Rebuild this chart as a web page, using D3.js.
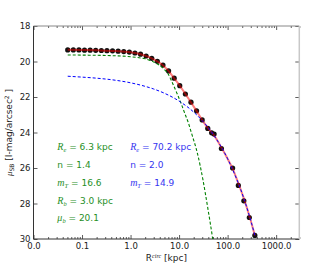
<!DOCTYPE html>
<html>
<head>
<meta charset="utf-8">
<script src="https://cdn.jsdelivr.net/npm/d3@7"></script>
<style>
  body { margin: 0; background: #fff; }
  text { font-family: 'DejaVu Sans', sans-serif; }
</style>
</head>
<body>
<svg id="chart" width="332" height="266"></svg>
<script>
// Observed profile (R in kpc, surface brightness in mag/arcsec^2)
const dataR = [0.0507, 0.0661, 0.0863, 0.1125, 0.1469, 0.1915, 0.250, 0.326, 0.425, 0.555, 0.724, 0.944,
  1.231, 1.606, 2.095, 2.733, 3.565, 4.65, 6.07, 7.92, 10.33, 13.48, 17.58, 22.93, 29.92, 39.0,
  46.8, 52.7, 74.5, 126.8, 166.2, 216, 280, 364]
const dataMu = [19.35, 19.35, 19.35, 19.36, 19.36, 19.37, 19.38, 19.39, 19.40, 19.42, 19.44, 19.47,
  19.52, 19.59, 19.69, 19.82, 19.99, 20.20, 20.53, 20.94, 21.36, 21.83, 22.29, 22.78, 23.29, 23.77,
  24.02, 24.09, 24.90, 26.00, 26.98, 27.85, 28.79, 29.80]

// Total model (red)
const redR = [0.0507, 0.1, 0.2, 0.5, 1, 2, 3, 4, 5, 6, 8, 10, 13, 17, 22, 30, 40, 50, 75, 100, 130, 170, 220, 280, 364]
const redMu = [19.34, 19.35, 19.37, 19.41, 19.48, 19.67, 19.88, 20.08, 20.29, 20.51, 20.96, 21.30, 21.76,
  22.24, 22.71, 23.30, 23.78, 24.08, 24.86, 25.48, 26.10, 26.93, 27.78, 28.69, 29.80]

// Inner component (green dashed)
const greenR = [0.0507, 0.1, 0.2, 0.5, 1, 1.5, 2, 3, 4, 5, 6, 7, 9, 11, 13, 15.5, 18, 24, 31, 39, 49, 55]
const greenMu = [19.63, 19.64, 19.65, 19.68, 19.73, 19.79, 19.85, 20.03, 20.22, 20.45, 20.72, 21.10, 21.78,
  22.36, 22.90, 23.45, 24.03, 25.20, 26.66, 28.25, 29.95, 30.9]

// Outer component (blue dashed)
const blueR = [0.0507, 0.1, 0.2, 0.5, 1, 2, 3, 5, 10, 20, 30, 50, 100, 200, 300, 364]
const blueMu = [20.83, 20.88, 20.94, 21.06, 21.20, 21.40, 21.55, 21.79, 22.23, 22.85, 23.33, 24.09,
  25.48, 27.45, 28.96, 29.80]

// Ticks
const xMajor = [0.01, 0.1, 1, 10, 100, 1000]
const yTicks = [18, 20, 22, 24, 26, 28, 30]

// Fit parameters
const greenLabels = [
  { sym: 'R', sub: 'e', txt: ' = 6.3 kpc', mu: 25 },
  { sym: '', sub: '', txt: 'n = 1.4', mu: 26 },
  { sym: 'm', sub: 'T', txt: ' = 16.6', mu: 27 },
  { sym: 'R', sub: 'b', txt: ' = 3.0 kpc', mu: 28 },
  { sym: 'μ', sub: 'b', txt: ' = 20.1', mu: 29 }
]
const blueLabels = [
  { sym: 'R', sub: 'e', txt: ' = 70.2 kpc', mu: 25 },
  { sym: '', sub: '', txt: 'n = 2.0', mu: 26 },
  { sym: 'm', sub: 'T', txt: ' = 14.9', mu: 27 }
]

const pLeft = 33.5, pRight = 299.3, pTop = 26, pBottom = 239
const svg = d3.select('#chart')

const x = d3.scaleLog().domain([0.01, 3000]).range([pLeft, pRight])
const y = d3.scaleLinear().domain([18, 30]).range([pTop, pBottom])

const isDecade = d => Math.abs(Math.log10(d) - Math.round(Math.log10(d))) < 1e-6
const xMinor = x.ticks().filter(d => !isDecade(d))

svg.append('defs').append('clipPath').attr('id', 'clip')
  .append('rect').attr('x', pLeft).attr('y', pTop).attr('width', pRight - pLeft).attr('height', pBottom - pTop)

// Axes (ticks point inward on all sides)
const styleAxis = g => {
  g.select('.domain').remove()
  g.selectAll('line').attr('stroke', '#333').attr('stroke-width', 0.8)
  g.selectAll('text').attr('fill', '#222').style('font-size', '8.5px')
}

svg.append('g').attr('transform', `translate(0,${pBottom})`)
  .call(d3.axisBottom(x).tickValues(xMajor).tickFormat(d3.format('.1f')).tickSize(-4).tickPadding(4))
  .call(styleAxis)
svg.append('g').attr('transform', `translate(0,${pBottom})`)
  .call(d3.axisBottom(x).tickValues(xMinor).tickFormat('').tickSize(-2))
  .call(styleAxis)
svg.append('g').attr('transform', `translate(0,${pTop})`)
  .call(d3.axisTop(x).tickValues(xMajor).tickFormat('').tickSize(-4))
  .call(styleAxis)
svg.append('g').attr('transform', `translate(0,${pTop})`)
  .call(d3.axisTop(x).tickValues(xMinor).tickFormat('').tickSize(-2))
  .call(styleAxis)
svg.append('g').attr('transform', `translate(${pLeft},0)`)
  .call(d3.axisLeft(y).tickValues(yTicks).tickFormat(d3.format('d')).tickSize(-4).tickPadding(3))
  .call(styleAxis)
svg.append('g').attr('transform', `translate(${pRight},0)`)
  .call(d3.axisRight(y).tickValues(yTicks).tickFormat('').tickSize(-4))
  .call(styleAxis)

// Spines
svg.append('line').attr('x1', pLeft).attr('x2', pLeft).attr('y1', pTop).attr('y2', pBottom).attr('stroke', '#333').attr('stroke-width', 1)
svg.append('line').attr('x1', pLeft).attr('x2', pRight).attr('y1', pBottom).attr('y2', pBottom).attr('stroke', '#333').attr('stroke-width', 1)
svg.append('line').attr('x1', pLeft).attr('x2', pRight).attr('y1', pTop).attr('y2', pTop).attr('stroke', '#888').attr('stroke-width', 1)
svg.append('line').attr('x1', pRight).attr('x2', pRight).attr('y1', pTop).attr('y2', pBottom).attr('stroke', '#c8c8c8').attr('stroke-width', 1.5)

const plot = svg.append('g').attr('clip-path', 'url(#clip)')

// Data points
plot.selectAll('.pt')
  .data(dataR.map((r, i) => [r, dataMu[i]]))
  .enter()
  .append('circle')
  .attr('class', 'pt')
  .attr('cx', d => x(d[0]))
  .attr('cy', d => y(d[1]))
  .attr('r', 2.6)
  .attr('fill', '#111')

const line = d3.line().x(d => x(d[0])).y(d => y(d[1])).curve(d3.curveMonotoneX)

plot.append('path')
  .datum(redR.map((r, i) => [r, redMu[i]]))
  .attr('d', line)
  .attr('fill', 'none')
  .attr('stroke', 'red')
  .attr('stroke-opacity', 0.5)
  .attr('stroke-width', 2)

plot.append('path')
  .datum(greenR.map((r, i) => [r, greenMu[i]]))
  .attr('d', line)
  .attr('fill', 'none')
  .attr('stroke', '#008000')
  .attr('stroke-width', 1.1)
  .attr('stroke-dasharray', '3,2')

plot.append('path')
  .datum(blueR.map((r, i) => [r, blueMu[i]]))
  .attr('d', line)
  .attr('fill', 'none')
  .attr('stroke', '#0000ff')
  .attr('stroke-width', 1)
  .attr('stroke-dasharray', '3,2')

// Parameter labels
const addLabels = (labels, r0, color) => {
  labels.forEach(l => {
    const t = svg.append('text')
      .attr('x', x(r0))
      .attr('y', y(l.mu))
      .attr('fill', color)
      .style('font-size', '9px')
    if (l.sym) {
      t.append('tspan').text(l.sym)
        .style('font-family', "'Liberation Serif', serif").style('font-style', 'italic').style('font-size', '10px')
      t.append('tspan').text(l.sub).attr('dy', 2)
        .style('font-family', "'Liberation Serif', serif").style('font-style', 'italic').style('font-size', '6.5px')
      t.append('tspan').text(l.txt).attr('dy', -2)
    } else {
      t.append('tspan').text(l.txt)
    }
  })
}
addLabels(greenLabels, 0.031, '#1f8f1f')
addLabels(blueLabels, 0.98, '#3535f0')

// Axis titles
const xt = svg.append('text')
  .attr('x', (pLeft + pRight) / 2)
  .attr('y', 261)
  .attr('text-anchor', 'middle')
  .attr('fill', '#222')
  .style('font-size', '9px')
xt.append('tspan').text('R')
xt.append('tspan').text('circ').attr('dy', -3.5).style('font-size', '6px').style('font-style', 'italic')
  .style('font-family', "'Liberation Serif', serif")
xt.append('tspan').text(' [kpc]').attr('dy', 3.5)

const yt = svg.append('text')
  .attr('transform', `translate(12,${(pTop + pBottom) / 2}) rotate(-90)`)
  .attr('text-anchor', 'middle')
  .attr('fill', '#222')
  .style('font-size', '9px')
yt.append('tspan').text('μ').style('font-style', 'italic').style('font-family', "'Liberation Serif', serif")
yt.append('tspan').text('SB').attr('dy', 2).style('font-size', '6px')
yt.append('tspan').text(' [I-mag/arcsec').attr('dy', -2)
yt.append('tspan').text('2').attr('dy', -3.5).style('font-size', '6px')
yt.append('tspan').text(' ]').attr('dy', 3.5)
</script>
</body>
</html>
